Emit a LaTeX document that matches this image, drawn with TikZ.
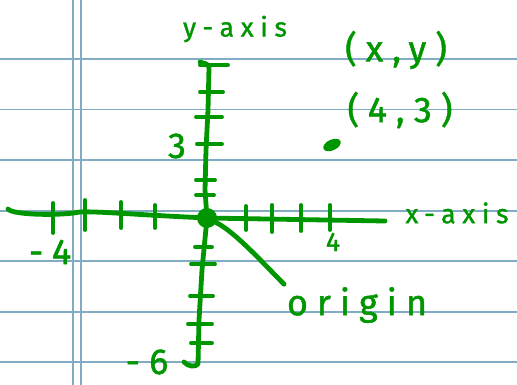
\documentclass[tikz,border=0pt]{standalone}
\usepackage{fontspec}
\newfontfamily\hand{Fira Sans}[LetterSpace=25, FakeBold=1.2]
\usepackage{tikz}
\usetikzlibrary{shapes.geometric, positioning}
\definecolor{pen}{RGB}{0,150,0}
\definecolor{rule}{RGB}{128,172,196}

\begin{document}
\begin{tikzpicture}[x=0.75pt, y=-0.75pt,
    paper/.style={rule, line width=1pt},
    ink/.style={pen, line width=3.6pt, line cap=round, line join=round},
    tickmark/.style={pen, line width=2.9pt, line cap=round},
    lbl/.style={pen, inner sep=0pt, font=\hand\fontsize{20}{22}\selectfont},
    biglbl/.style={lbl, font=\hand\fontsize{27}{30}\selectfont}
  ]
  \useasboundingbox[fill=white] (0,0) rectangle (517,385);
  % Notebook paper
  \foreach \y in {59,109.5,160,211,261,312,362} {
    \draw[paper] (0,\y) -- (517,\y);
  }
  \draw[paper] (73,0) -- (73,385);
  \draw[paper] (81,0) -- (81,385);
  % Origin and axes
  \node[fill=pen, circle, minimum size=15pt, inner sep=0pt] (O) at (207,218) {};
  \coordinate (xl) at (8,209);
  \coordinate (xr) at (385,221);
  \coordinate (yt) at (200,62);
  \coordinate (yb) at (184,362);
  \draw[ink] (xl) .. controls (12,215) and (60,216) .. (80,212)
    .. controls (95,211) and (140,215) .. (O.center) -- (xr);
  \draw[ink] (yt) .. controls (204,64) and (209,63) .. (209,68)
    -- (208,110) -- (206,150) -- (205,190) -- (O.center)
    -- (202,270) -- (199,320) -- (198,364)
    .. controls (196,367) and (188,367) .. (yb);
  % Ticks on the x-axis
  \foreach \x/\a/\b in {53/203/233, 85/200/230, 121/202/228, 155/205/228,
                        246/206/230, 272/205/232, 301/205/231, 330/205/230} {
    \draw[tickmark] (\x,\a) -- (\x,\b);
  }
  % Ticks on the y-axis
  \foreach \y/\a/\b in {65/200/228, 92/200/223, 117/196/222, 144/197/222,
                        180/196/215, 195/196/214, 247/195/212, 264/191/215,
                        296/190/213, 324/188/212, 343/191/212} {
    \draw[tickmark] (\a,\y) -- (\b,\y);
  }
  % Labels
  \node[lbl] (ylab) at (235,29) {y-axis};
  \node[lbl] (xlab) at (457,213) {x-axis};
  \node[biglbl] (three) at (177,146) {3};
  \node[lbl] (four) at (333,242) {4};
  \node[biglbl] (mfour) at (50,252) {-4};
  \node[biglbl] (msix) at (147,362) {-6};
  \node[biglbl] (xy) at (396,50) {(x,y)};
  \node[biglbl] (pt) at (400,110) {(4,3)};
  \node[biglbl] (orig) at (357,305) {origin};
  % The point (4,3)
  \node[fill=pen, ellipse, minimum width=14pt, minimum height=8pt, inner sep=0pt,
        rotate=25] (P) at (332,145) {};
  % Pointer to the origin
  \draw[ink] (O) .. controls (235,232) and (262,262) .. ([xshift=-2pt,yshift=2pt]orig.north west);
\end{tikzpicture}
\end{document}
